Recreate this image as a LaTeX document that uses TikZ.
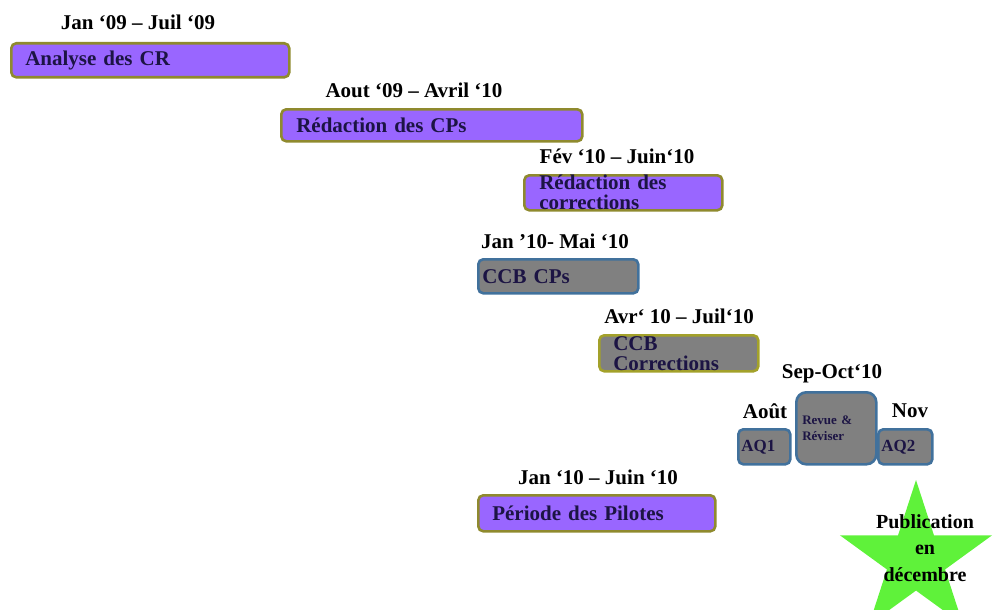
\documentclass[tikz,border=0pt]{standalone}
\usepackage{fontspec}
\setmainfont{Liberation Serif}
\usetikzlibrary{shapes.geometric}
\definecolor{purp}{HTML}{9966FF}
\definecolor{olivebd}{HTML}{8F8A2E}
\definecolor{oliveyl}{HTML}{A3A12A}
\definecolor{steel}{HTML}{41719C}
\definecolor{grayfill}{HTML}{808080}
\definecolor{navytxt}{HTML}{1C1444}
\definecolor{stargreen}{HTML}{5FF23A}
\tikzset{
  bigfont/.style={font=\fontsize{21}{20}\selectfont\bfseries},
  datelbl/.style={bigfont, text=black, inner sep=0pt},
  taskbox/.style={draw, rounded corners=5pt, line width=2.6pt, anchor=north west,
    align=left, bigfont, text=navytxt, inner ysep=0pt},
  purplebox/.style={taskbox, fill=purp, draw=olivebd},
  graybox/.style={taskbox, fill=grayfill, draw=steel},
  olivegraybox/.style={taskbox, fill=grayfill, draw=oliveyl},
}
\begin{document}
\begin{tikzpicture}[x=1pt,y=-1pt]
\useasboundingbox (0,0) rectangle (993,610);

% task boxes
\node[purplebox, minimum width=278pt, minimum height=34pt, inner xsep=14pt, text width=250pt] (analyse) at (10,42) {Analyse des CR};
\node[datelbl] (d1) at (138,22) {Jan ‘09 – Juil ‘09};

\node[purplebox, minimum width=301pt, minimum height=32pt, inner xsep=15pt, text width=271pt] (redcp) at (280,108) {Rédaction des CPs};
\node[datelbl] (d2) at (414,90) {Aout ‘09 – Avril ‘10};

\node[purplebox, minimum width=198pt, minimum height=35pt, inner xsep=15pt, text width=168pt] (redcor) at (523,174) {Rédaction des\\corrections};
\node[datelbl] (d3) at (617,156) {Fév ‘10 – Juin‘10};

\node[graybox, minimum width=160pt, minimum height=34pt, inner xsep=4pt, text width=152pt] (ccbcp) at (477,258) {CCB CPs};
\node[datelbl] (d4) at (555,241) {Jan ’10- Mai ‘10};

\node[olivegraybox, minimum width=159pt, minimum height=36pt, inner xsep=14pt, text width=131pt] (ccbcor) at (598,334) {CCB\\Corrections};
\node[datelbl] (d5) at (679,316) {Avr‘ 10 – Juil‘10};

\node[graybox, font=\fontsize{17}{17}\selectfont\bfseries, minimum width=52pt, minimum height=35pt, inner xsep=3pt, text width=46pt] (aq1) at (737,428) {AQ1};
\node[datelbl] (d6) at (765,411) {Août};

\node[graybox, rounded corners=10pt, font=\fontsize{13}{16}\selectfont\bfseries, minimum width=80pt, minimum height=72pt, inner xsep=6pt, text width=68pt] (revue) at (795,391) {Revue \&\\Réviser};
\node[datelbl] (d7) at (832,374) {Sep-Oct‘10};

\node[graybox, font=\fontsize{17}{17}\selectfont\bfseries, minimum width=54pt, minimum height=35pt, inner xsep=3pt, text width=48pt] (aq2) at (877,428) {AQ2};
\node[datelbl] (d8) at (910,411) {Nov};

\node[purplebox, minimum width=237pt, minimum height=36pt, inner xsep=14pt, text width=209pt] (pilotes) at (477,494) {Période des Pilotes};
\node[datelbl] (d9) at (598,477) {Jan ‘10 – Juin ‘10};

% star
\node[star, star points=5, star point ratio=2.618, minimum size=160pt, inner sep=0pt, fill=stargreen] (star) at (916,560) {};
\node[font=\fontsize{20}{26.5}\selectfont\bfseries, text=black, align=center, inner sep=0pt] (pub) at (925,548) {Publication\\en\\décembre};
\end{tikzpicture}
\end{document}
